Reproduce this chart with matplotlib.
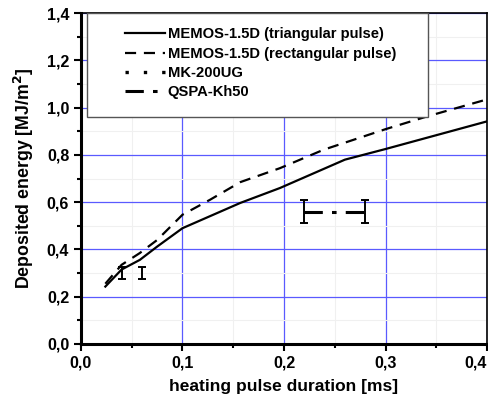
import matplotlib
matplotlib.use("Agg")
import matplotlib.pyplot as plt
from matplotlib.patches import Rectangle
from matplotlib.ticker import MultipleLocator, FuncFormatter

plt.rcParams['font.family'] = ['Liberation Sans', 'DejaVu Sans']
plt.rcParams['font.weight'] = 'bold'

# MEMOS-1.5D curves
tri_x = [0.024, 0.04, 0.058, 0.075, 0.1, 0.157, 0.196, 0.26, 0.3, 0.4]
tri_y = [0.243, 0.315, 0.356, 0.412, 0.49, 0.597, 0.66, 0.78, 0.825, 0.942]
rect_x = [0.024, 0.04, 0.058, 0.075, 0.1, 0.127, 0.157, 0.196, 0.239, 0.3, 0.341, 0.4]
rect_y = [0.255, 0.335, 0.385, 0.44, 0.547, 0.61, 0.685, 0.744, 0.822, 0.909, 0.963, 1.035]

# measurements
mk_x = [0.04, 0.06]
mk_y = [0.30, 0.30]
mk_err = [0.025, 0.025]
qspa_x = [0.22, 0.28]
qspa_y = [0.56, 0.56]
qspa_err = [0.05, 0.05]

fig = plt.figure(figsize=(4.89, 3.98), dpi=100)
ax = fig.add_axes([0.1656, 0.1357, 0.8304, 0.8313])

ax.plot(tri_x, tri_y, '-', color='black', lw=1.6, label='MEMOS-1.5D (triangular pulse)')
ax.plot(rect_x, rect_y, '--', color='black', lw=1.6, dashes=(5, 3.5),
        label='MEMOS-1.5D (rectangular pulse)')
ax.errorbar(mk_x, mk_y, yerr=mk_err, fmt='none', ecolor='black', elinewidth=1.4,
            capsize=3, capthick=1.4)
# the points are drawn only as error bars, the line shows in the legend
ax.plot([], [], ':', color='black', lw=2.4, dashes=(1, 4.5), label='MK-200UG')
ax.errorbar(qspa_x, qspa_y, yerr=qspa_err, fmt='none', ecolor='black', elinewidth=1.4,
            capsize=3, capthick=1.4)
ax.plot(qspa_x, qspa_y, '-.', color='black', lw=2.2, dashes=(6, 3, 1.5, 3),
        label='QSPA-Kh50')

ax.set_xlim(0, 0.4)
ax.set_ylim(0, 1.4)
ax.xaxis.set_major_locator(MultipleLocator(0.1))
ax.xaxis.set_minor_locator(MultipleLocator(0.05))
ax.yaxis.set_major_locator(MultipleLocator(0.2))
ax.yaxis.set_minor_locator(MultipleLocator(0.1))
fmt = FuncFormatter(lambda v, p: ('%.1f' % v).replace('.', ','))
ax.xaxis.set_major_formatter(fmt)
ax.yaxis.set_major_formatter(fmt)

ax.grid(True, which='major', color='#5a5aff', lw=0.9)
ax.grid(True, which='minor', color='#f0f0f0', lw=0.8)
ax.set_axisbelow(True)

for s in ax.spines.values():
    s.set_linewidth(1.2)
ax.spines['left'].set_linewidth(2.2)
ax.spines['bottom'].set_linewidth(2.2)
ax.tick_params(which='major', direction='out', length=5, width=1.5, labelsize=11.5)
ax.tick_params(which='minor', direction='out', length=3, width=1.5)
ax.tick_params(top=False, right=False, which='both')

ax.set_xlabel('heating pulse duration [ms]', fontsize=12.5, fontweight='bold', labelpad=6)
ax.set_ylabel('Deposited energy [MJ/m$^\\mathbf{2}$]', fontsize=12.8, fontweight='bold',
              labelpad=8)

# last x label sits inside the figure edge
fig.canvas.draw()
for tick in ax.xaxis.get_major_ticks():
    if abs(tick.get_loc() - 0.4) < 1e-6:
        tick.label1.set_horizontalalignment('right')

# legend box
ax.add_patch(Rectangle((0.015, 0.686), 0.84, 0.314, transform=ax.transAxes,
                       facecolor='white', edgecolor='#555555', lw=1.0, zorder=4))
leg = ax.legend(loc='upper left', bbox_to_anchor=(0.108, 0.957), frameon=False,
                fontsize=10.6, handlelength=2.7, handletextpad=0.2,
                labelspacing=0.36, borderpad=0, borderaxespad=0)
leg.set_zorder(5)
for t in leg.get_texts():
    t.set_fontweight('bold')

fig.savefig('out.png', dpi=100)
